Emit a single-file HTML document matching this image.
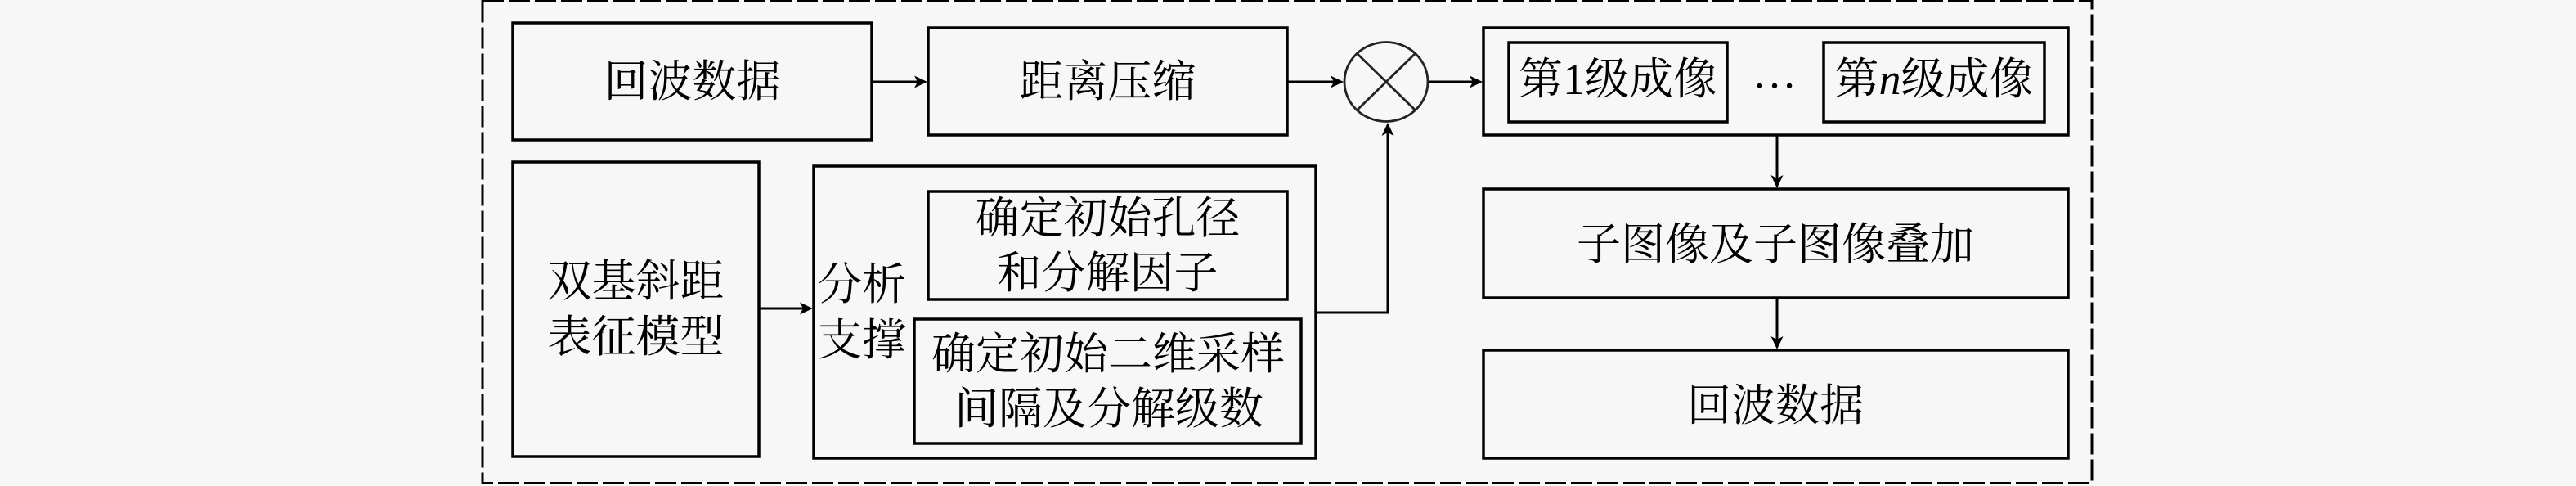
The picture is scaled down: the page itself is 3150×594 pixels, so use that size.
<!DOCTYPE html>
<html>
<head>
<meta charset="utf-8">
<style>
  html, body { margin:0; padding:0; background:#f7f7f7; }
  body { width:3150px; height:594px; overflow:hidden; }
  svg { display:block; }
  text { font-family:"Liberation Serif","Noto Serif CJK SC","Noto Serif CJK JP",serif; font-size:54px; fill:#000; }
</style>
</head>
<body>
<svg width="3150" height="594" viewBox="0 0 3150 594" xmlns="http://www.w3.org/2000/svg">
  <rect x="0" y="0" width="3150" height="594" fill="#f7f7f7"/>

  <!-- dashed outer border -->
  <rect x="590" y="1.5" width="1968" height="589" fill="none" stroke="#000" stroke-width="3" stroke-dasharray="26 6"/>

  <g fill="none" stroke="#000" stroke-width="3.5">
    <!-- top row boxes -->
    <rect x="627" y="28" width="439" height="143"/>
    <rect x="1135" y="34" width="439" height="131"/>
    <!-- bistatic model box -->
    <rect x="627" y="198" width="301" height="360"/>
    <!-- analysis outer box -->
    <rect x="995" y="203" width="614" height="357"/>
    <rect x="1135" y="234" width="439" height="132"/>
    <rect x="1118" y="390" width="473" height="152"/>
    <!-- imaging group -->
    <rect x="1814" y="34" width="715" height="131"/>
    <rect x="1845" y="52" width="267" height="97"/>
    <rect x="2230" y="52" width="270" height="97"/>
    <!-- sub-image box -->
    <rect x="1814" y="231" width="715" height="133"/>
    <!-- bottom echo box -->
    <rect x="1814" y="428" width="715" height="132"/>
  </g>

  <!-- multiplier circle -->
  <g fill="none" stroke="#222" stroke-width="2.8">
    <ellipse cx="1695" cy="100" rx="51" ry="48.5"/>
    <line x1="1659" y1="65" x2="1731" y2="135"/>
    <line x1="1731" y1="65" x2="1659" y2="135"/>
  </g>

  <!-- connectors -->
  <g fill="none" stroke="#000" stroke-width="3">
    <line x1="1066" y1="100" x2="1125" y2="100"/>
    <line x1="1574" y1="100" x2="1634" y2="100"/>
    <line x1="1747" y1="100" x2="1804" y2="100"/>
    <line x1="928" y1="377" x2="985" y2="377"/>
    <polyline points="1609,382 1697,382 1697,160"/>
    <line x1="2173" y1="165" x2="2173" y2="221"/>
    <line x1="2173" y1="364" x2="2173" y2="418"/>
  </g>
  <g fill="#000" stroke="none">
    <polygon points="1134,100 1118,92.5 1122,100 1118,107.5"/>
    <polygon points="1643,100 1627,92.5 1631,100 1627,107.5"/>
    <polygon points="1813,100 1797,92.5 1801,100 1797,107.5"/>
    <polygon points="994,377 978,369.5 982,377 978,384.5"/>
    <polygon points="1697,150 1689.5,166 1697,162 1704.5,166"/>
    <polygon points="2173,230 2165.5,214 2173,218 2180.5,214"/>
    <polygon points="2173,427 2165.5,411 2173,415 2180.5,411"/>
  </g>

  <!-- labels -->
  <g text-anchor="middle" dominant-baseline="central">
    <text x="846.5" y="100">回波数据</text>
    <text x="1354.5" y="100">距离压缩</text>
    <text x="777.5" y="344">双基斜距</text>
    <text x="777.5" y="412">表征模型</text>
    <text x="1054" y="348">分析</text>
    <text x="1054" y="416">支撑</text>
    <text x="1354.5" y="267">确定初始孔径</text>
    <text x="1354.5" y="334">和分解因子</text>
    <text x="1355" y="433">确定初始二维采样</text>
    <text x="1356" y="500">间隔及分解级数</text>
    <text x="1978.5" y="97">第<tspan font-family="Liberation Serif">1</tspan>级成像</text>
    <text x="2365" y="97">第<tspan font-family="Liberation Serif" font-style="italic">n</tspan>级成像</text>
    <text x="2171" y="299">子图像及子图像叠加</text>
    <text x="2171" y="496">回波数据</text>
  </g>
  <text x="2170" y="107" text-anchor="middle" font-family="Liberation Serif" font-size="44">…</text>
</svg>
</body>
</html>
